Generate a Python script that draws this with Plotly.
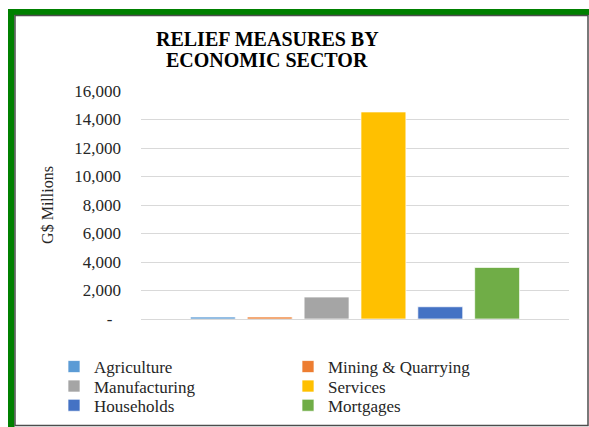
import plotly.graph_objects as go

# Relief measures by economic sector (G$ millions)
sectors = ["Agriculture", "Mining & Quarrying", "Manufacturing",
           "Services", "Households", "Mortgages"]
relief_values = [140, 140, 1540, 14530, 860, 3620]
bar_colors = ["#5B9BD5", "#ED7D31", "#A5A5A5", "#FFC000", "#4472C4", "#70AD47"]
group_label = ["All sectors"]
title_lines = ["RELIEF MEASURES BY", "ECONOMIC SECTOR"]

tick_values = [0, 2000, 4000, 6000, 8000, 10000, 12000, 14000, 16000]
tick_labels = ["-\u00a0\u00a0", "2,000", "4,000", "6,000", "8,000",
               "10,000", "12,000", "14,000", "16,000"]

W, H = 589, 427
ML, MR, MT, MB = 141, 20, 91, 108
PW, PH = W - ML - MR, H - MT - MB


def px_x(px):
    return (px - ML) / PW


def px_y(py):
    return (H - MB - py) / PH


SERIF = "Liberation Serif, Times New Roman, serif"

# three legend rows, two entries each
legend_rows = ["legend", "legend", "legend2", "legend2", "legend3", "legend3"]

fig = go.Figure()
for name, val, col, lg in zip(sectors, relief_values, bar_colors, legend_rows):
    fig.add_trace(go.Bar(
        x=group_label, y=[val], name=name,
        marker=dict(color=col, line=dict(color="rgba(255,255,255,0.7)", width=1)),
        legend=lg,
    ))

row_y = [367, 386.5, 405.7]
legend_x = 54
legend_common = dict(
    orientation="h", xanchor="left", yanchor="middle",
    font=dict(family=SERIF, size=17, color="#262626"),
    entrywidth=189, entrywidthmode="pixels",
    bgcolor="rgba(0,0,0,0)", itemclick=False,
)

# chart frame: green band on top/left, dark outline
shapes = [
    dict(type="rect", xref="paper", yref="paper",
         x0=px_x(8), x1=px_x(14.5), y0=px_y(427), y1=px_y(9),
         fillcolor="#008000", line=dict(width=0), layer="above"),
    dict(type="rect", xref="paper", yref="paper",
         x0=px_x(8), x1=px_x(589), y0=px_y(15), y1=px_y(9),
         fillcolor="#008000", line=dict(width=0), layer="above"),
    dict(type="rect", xref="paper", yref="paper",
         x0=px_x(15), x1=px_x(588), y0=px_y(425.5), y1=px_y(15.5),
         fillcolor="rgba(0,0,0,0)", line=dict(color="#4d4d4d", width=1.5),
         layer="above"),
]

# two-line chart heading
title_baselines = [45, 66]
annotations = [
    dict(text=f"<b>{line}</b>", xref="paper", yref="paper",
         x=px_x(267), y=px_y(base), xanchor="center", yanchor="bottom",
         showarrow=False, yshift=-7,
         font=dict(family=SERIF, size=20, color="#000000"))
    for line, base in zip(title_lines, title_baselines)
]

fig.update_layout(
    width=W, height=H,
    margin=dict(l=ML, r=MR, t=MT, b=MB, autoexpand=False),
    paper_bgcolor="white", plot_bgcolor="white",
    barmode="group", bargap=0.203, bargroupgap=0.21,
    xaxis=dict(showticklabels=False, showgrid=False, zeroline=False,
               showline=False, ticks=""),
    yaxis=dict(
        range=[0, 16000], tickvals=tick_values, ticktext=tick_labels,
        showgrid=True, gridcolor="#D9D9D9", gridwidth=1,
        zeroline=True, zerolinecolor="#D9D9D9", zerolinewidth=1,
        showline=False, ticks="", ticklabelstandoff=19,
        tickfont=dict(family=SERIF, size=17, color="#262626"),
        title=dict(text="G$ Millions", standoff=16,
                   font=dict(family=SERIF, size=16, color="#262626")),
    ),
    legend=dict(x=px_x(legend_x), y=px_y(row_y[0]), **legend_common),
    legend2=dict(x=px_x(legend_x), y=px_y(row_y[1]), **legend_common),
    legend3=dict(x=px_x(legend_x), y=px_y(row_y[2]), **legend_common),
    shapes=shapes,
    annotations=annotations,
    showlegend=True,
)

fig.write_html("out.html")
